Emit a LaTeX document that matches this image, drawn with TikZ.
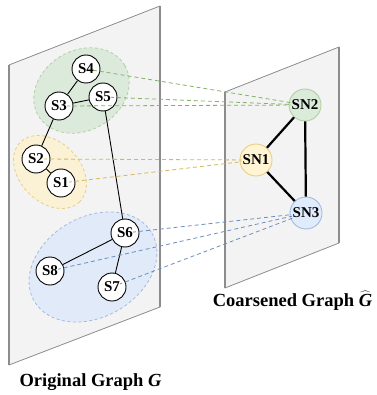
\documentclass[tikz,border=0pt]{standalone}
\usepackage{fontspec}
\setmainfont{Liberation Serif}
\definecolor{panelfill}{HTML}{F3F3F3}
\definecolor{panelline}{HTML}{8C8C8C}
\definecolor{gfill}{HTML}{D5E8D4}
\definecolor{gline}{HTML}{82B366}
\definecolor{gedge}{HTML}{B3D0A3}
\definecolor{yfill}{HTML}{FFF2CC}
\definecolor{yline}{HTML}{D6B656}
\definecolor{yedge}{HTML}{EACE86}
\definecolor{bfill}{HTML}{DAE8FC}
\definecolor{bline}{HTML}{6C8EBF}
\definecolor{bedge}{HTML}{A3BBE0}
\begin{document}
\begin{tikzpicture}[x=1pt,y=-1pt,
  panel/.style={fill=panelfill,draw=panelline,line width=0.8pt,line join=round},
  paneledge/.style={draw=panelline,line width=1.4pt},
  grp/.style={dashed,dash pattern=on 3pt off 2.5pt,line width=0.8pt,fill opacity=0.75},
  snode/.style={circle,draw=black,fill=white,line width=0.9pt,minimum size=28pt,inner sep=0pt},
  supnode/.style={circle,line width=0.9pt,minimum size=32pt,inner sep=0pt},
  lbl/.style={inner sep=0.3pt,font=\bfseries\fontsize{15}{15}\selectfont},
  link/.style={black,line width=0.9pt},
  slink/.style={black,line width=2.2pt},
  map/.style={dashed,dash pattern=on 4pt off 3pt,line width=0.8pt},
  title/.style={anchor=base,font=\bfseries\fontsize{18.5}{20}\selectfont}
]
\useasboundingbox (0,0) rectangle (376,395);
% panels
\draw[panel] (9,65) -- (160,6) -- (160,307) -- (9,365) -- cycle;
\draw[paneledge] (9,65) -- (9,365) (160,6) -- (160,307);
\draw[panel] (225,92) -- (339,47) -- (339,243) -- (225,288) -- cycle;
\draw[paneledge] (225,92) -- (225,288) (339,47) -- (339,243);
% groups
\filldraw[grp,fill=gfill,draw=gedge] (81.5,90.5) ellipse [x radius=50, y radius=40, rotate=30];
\filldraw[grp,fill=yfill,draw=yedge] (50,172) ellipse [x radius=42, y radius=30, rotate=-45];
\filldraw[grp,fill=bfill,draw=bedge] (93,267) ellipse [x radius=68, y radius=50, rotate=30];
% original nodes
\node[snode] (S4) at (86,69) {};
\node[snode] (S3) at (59,106) {};
\node[snode] (S5) at (103,97) {};
\node[snode] (S2) at (36,159) {};
\node[snode] (S1) at (61,183) {};
\node[snode] (S6) at (125,233) {};
\node[snode] (S8) at (50,271) {};
\node[snode] (S7) at (112,287) {};
% super nodes
\node[supnode,fill=gfill!85!white,draw=gedge] (SN2) at (305,105) {};
\node[supnode,fill=yfill!85!white,draw=yedge] (SN1) at (256,160) {};
\node[supnode,fill=bfill!85!white,draw=bedge] (SN3) at (306,213) {};
% edges
\draw[link] (S4) -- (S3);
\draw[link] (S3) -- (S5);
\draw[link] (S3) -- (S2);
\draw[link] (S2) -- (S1);
\draw[link] (S5) -- (S6);
\draw[link] (S6) -- (S8);
\draw[link] (S6) -- (S7);
\draw[slink] (SN1) -- (SN2);
\draw[slink] (SN1) -- (SN3);
\draw[slink] (SN2) -- (SN3);
% mappings
\draw[map,gline] (S4.center) -- (SN2.center);
\draw[map,gline] (S5.center) -- (SN2.center);
\draw[map,gline] (S3.center) -- (SN2.center);
\draw[map,yline] (S2.center) -- (SN1.center);
\draw[map,yline] (S1.center) -- (SN1.center);
\draw[map,bline] (S6.center) -- (SN3.center);
\draw[map,bline] (S8.center) -- (SN3.center);
\draw[map,bline] (S7.center) -- (SN3.center);
% labels
\node[lbl,fill=white] (L4) at (S4) {S4};
\node[lbl,fill=white] (L3) at (S3) {S3};
\node[lbl,fill=white] (L5) at (S5) {S5};
\node[lbl,fill=white] (L2) at (S2) {S2};
\node[lbl,fill=white] (L1) at (S1) {S1};
\node[lbl,fill=white] (L6) at (S6) {S6};
\node[lbl,fill=white] (L8) at (S8) {S8};
\node[lbl,fill=white] (L7) at (S7) {S7};
\node[lbl,fill=gfill!85!white] (LN2) at (SN2) {SN2};
\node[lbl,fill=yfill!85!white] (LN1) at (SN1) {SN1};
\node[lbl,fill=bfill!85!white] (LN3) at (SN3) {SN3};
% titles
\node[title] (T1) at (90.5,386) {Original Graph \textit{G}};
\node[title] (T2) at (292.5,306) {Coarsened Graph $\widehat{\textit{G}}$};
\end{tikzpicture}
\end{document}
